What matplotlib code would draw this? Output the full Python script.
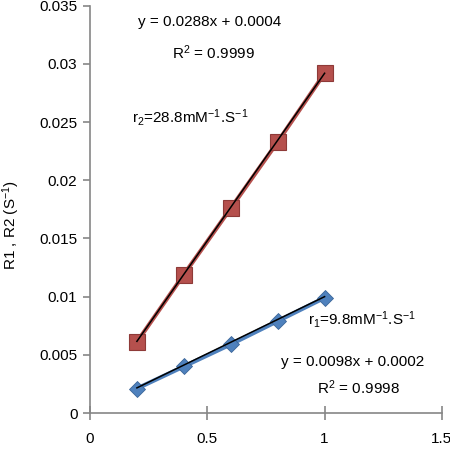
import numpy as np
import matplotlib.pyplot as plt

plt.rcParams["font.family"] = ["Liberation Sans", "DejaVu Sans"]
plt.rcParams["mathtext.fontset"] = "custom"
plt.rcParams["mathtext.rm"] = "Liberation Sans"
plt.rcParams["mathtext.it"] = "Liberation Sans:italic"
plt.rcParams["mathtext.default"] = "rm"

# data
conc = [0.2, 0.4, 0.6, 0.8, 1.0]
r2_vals = [0.0061, 0.0119, 0.0176, 0.0233, 0.0292]
r1_vals = [0.0021, 0.0040, 0.0059, 0.0079, 0.0099]
r2_fit = (0.0288, 0.0004)
r1_fit = (0.0098, 0.0002)

red = "#B5504D"
red_edge = "#8E3A38"
blue = "#4F81BD"
blue_edge = "#3B6598"
axis_grey = "#868686"

fig = plt.figure(figsize=(4.5, 4.54), dpi=100)
ax = fig.add_axes([0.2, 0.0903, 0.782, 0.897])

# series lines + markers
ax.plot(conc, r2_vals, color=red, lw=3.0, zorder=2)
ax.plot(conc, r2_vals, ls="none", marker="s", ms=12, mfc=red, mec=red_edge, mew=0.8, zorder=3)
ax.plot(conc, r1_vals, color=blue, lw=3.0, zorder=2)
ax.plot(conc, r1_vals, ls="none", marker="D", ms=8.5, mfc=blue, mec=blue_edge, mew=0.6, zorder=3)

# linear trendlines
xs = np.array([conc[0], conc[-1]])
ax.plot(xs, r2_fit[0] * xs + r2_fit[1], color="black", lw=1.1, zorder=4)
ax.plot(xs, r1_fit[0] * xs + r1_fit[1], color="black", lw=1.1, zorder=4)

ax.set_xlim(0, 1.5)
ax.set_ylim(0, 0.035)
ax.set_xticks([0, 0.5, 1, 1.5])
ax.set_xticklabels(["0", "0.5", "1", "1.5"])
ax.set_yticks(np.arange(0, 0.0351, 0.005))
ax.set_yticklabels(["0", "0.005", "0.01", "0.015", "0.02", "0.025", "0.03", "0.035"])

for s in ["top", "right"]:
    ax.spines[s].set_visible(False)
for s in ["left", "bottom"]:
    ax.spines[s].set_color(axis_grey)
    ax.spines[s].set_linewidth(1.2)
ax.tick_params(axis="both", colors=axis_grey, labelcolor="black", labelsize=11, length=6, width=1.2)
ax.tick_params(axis="x", direction="inout", length=10, pad=9)
ax.tick_params(axis="y", direction="out", length=5, pad=4)

# y label placed in figure coords so it sits right at the left edge
fig.text(0.026, 0.504, "R1 , R2 (S$^{-1}$)", fontsize=11, rotation=90, ha="center", va="center")

fs = 11
ax.text(0.511, 0.0336, "y = 0.0288x + 0.0004", fontsize=fs, ha="center", va="center")
ax.text(0.524, 0.0310, "R$^2$ = 0.9999", fontsize=fs, ha="center", va="center")
ax.text(0.426, 0.0254, "r$_2$=28.8mM$^{-1}$.S$^{-1}$", fontsize=fs, ha="center", va="center")
ax.text(1.16, 0.0080, "r$_1$=9.8mM$^{-1}$.S$^{-1}$", fontsize=fs, ha="center", va="center")
ax.text(1.118, 0.0044, "y = 0.0098x + 0.0002", fontsize=fs, ha="center", va="center")
ax.text(1.143, 0.00215, "R$^2$ = 0.9998", fontsize=fs, ha="center", va="center")

fig.savefig("out.png", dpi=100)
